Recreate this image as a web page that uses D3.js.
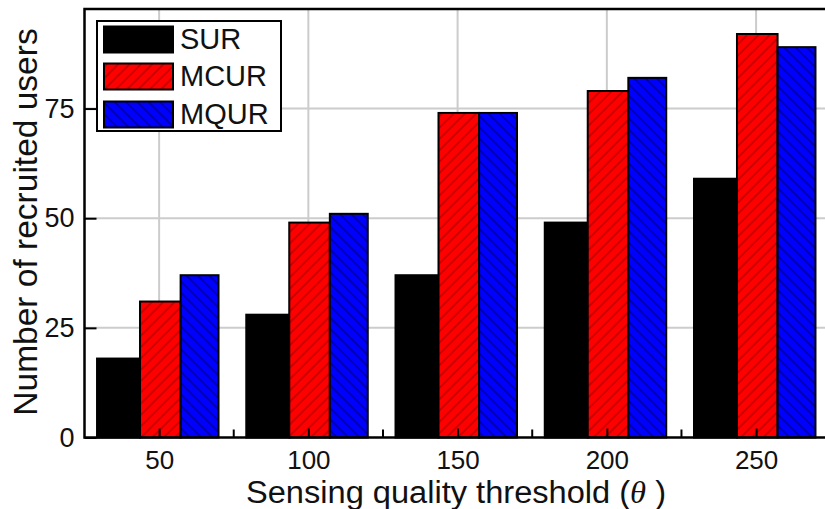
<!DOCTYPE html>
<html>
<head>
<meta charset="utf-8">
<script src="https://cdn.jsdelivr.net/npm/d3@7"></script>
<style>
  html, body { margin: 0; padding: 0; background: #fff; }
  svg { display: block; font-family: "Liberation Sans", Arial, Helvetica, sans-serif; }
</style>
</head>
<body>
<svg id="chart" width="825" height="509"></svg>
<script>
// Sensing quality threshold values (x categories)
const categories = [50, 100, 150, 200, 250];
// Number of recruited users per scheme
const surValues  = [18, 28, 37, 49, 59];
const mcurValues = [31, 49, 74, 79, 92];
const mqurValues = [37, 51, 74, 82, 89];
const seriesNames = ["SUR", "MCUR", "MQUR"];
const yTicks = [0, 25, 50, 75];
const xMinorTicks = [75, 125, 175, 225];

const W = 825, H = 509;
const plot = { left: 84.5, top: 9, bottom: 437.5 };

const svg = d3.select("#chart");

const x = d3.scaleLinear().domain([25, 275]).range([plot.left, 830.7]);
const y = d3.scaleLinear().domain([0, 97.7]).range([plot.bottom, plot.top]);

// Bar edges (in x-axis units) relative to each category value
const barEdges = [[-20.8, -6.4], [-6.4, 7.2], [7.2, 19.9]];

// Hatch patterns
const defs = svg.append("defs");
function hatch(id, bg, line, angle) {
  const s = 8;
  const p = defs.append("pattern")
    .attr("id", id)
    .attr("patternUnits", "userSpaceOnUse")
    .attr("width", s).attr("height", s)
    .attr("patternTransform", `rotate(${angle})`);
  p.append("rect").attr("width", s).attr("height", s).attr("fill", bg);
  p.append("line").attr("x1", 1).attr("x2", 1).attr("y1", 0).attr("y2", s)
    .attr("stroke", line).attr("stroke-width", 1.4);
}
hatch("hatchRed", "#ff0000", "#b80000", 45);
hatch("hatchBlue", "#0000ff", "#000090", -45);

const styles = [
  { fill: "#000000", stroke: "#000000" },
  { fill: "url(#hatchRed)", stroke: "#000000" },
  { fill: "url(#hatchBlue)", stroke: "#000000" }
];

const clip = defs.append("clipPath").attr("id", "plotClip");
clip.append("rect").attr("x", plot.left).attr("y", plot.top)
  .attr("width", W - plot.left + 20).attr("height", plot.bottom - plot.top);

// Grid
const grid = svg.append("g").attr("clip-path", "url(#plotClip)");
grid.selectAll("line.vg").data(categories).join("line")
  .attr("x1", d => x(d)).attr("x2", d => x(d))
  .attr("y1", plot.top).attr("y2", plot.bottom)
  .attr("stroke", "#cccccc").attr("stroke-width", 2);
grid.selectAll("line.hg").data(yTicks.filter(d => d > 0)).join("line")
  .attr("x1", plot.left).attr("x2", W + 10)
  .attr("y1", d => y(d)).attr("y2", d => y(d))
  .attr("stroke", "#cccccc").attr("stroke-width", 2);

// Bars
const allSeries = [surValues, mcurValues, mqurValues];
allSeries.forEach((vals, si) => {
  svg.append("g").selectAll("rect").data(vals).join("rect")
    .attr("x", (d, i) => x(categories[i] + barEdges[si][0]))
    .attr("width", (d, i) => x(categories[i] + barEdges[si][1]) - x(categories[i] + barEdges[si][0]))
    .attr("y", d => y(d))
    .attr("height", d => y(0) - y(d))
    .attr("fill", styles[si].fill)
    .attr("stroke", styles[si].stroke)
    .attr("stroke-width", 2);
});

// Axes (ticks inward)
const xAxis = d3.axisBottom(x).tickValues(categories).tickSize(-9).tickPadding(13).tickFormat(d3.format("d"));
const gx = svg.append("g").attr("transform", `translate(0,${plot.bottom})`).call(xAxis);
gx.select(".domain").remove();
gx.selectAll(".tick line").attr("stroke", "#000").attr("stroke-width", 2);
gx.selectAll(".tick text").attr("font-size", 26).attr("fill", "#111");

svg.append("g").selectAll("line").data(xMinorTicks).join("line")
  .attr("x1", d => x(d)).attr("x2", d => x(d))
  .attr("y1", plot.bottom).attr("y2", plot.bottom - 8)
  .attr("stroke", "#000").attr("stroke-width", 2);

const yAxis = d3.axisLeft(y).tickValues(yTicks).tickSize(-12).tickPadding(10).tickFormat(d3.format("d"));
const gy = svg.append("g").attr("transform", `translate(${plot.left},0)`).call(yAxis);
gy.select(".domain").remove();
gy.selectAll(".tick line").attr("stroke", "#000").attr("stroke-width", 2);
gy.selectAll(".tick text").attr("font-size", 27).attr("fill", "#111");

// Frame
svg.append("path")
  .attr("d", `M${W + 10},${plot.top}H${plot.left}V${plot.bottom}H${W + 10}`)
  .attr("fill", "none").attr("stroke", "#000").attr("stroke-width", 2.5);

// Axis titles
svg.append("text")
  .attr("x", 456).attr("y", 503)
  .attr("text-anchor", "middle").attr("font-size", 31).attr("fill", "#111")
  .attr("textLength", 420).attr("lengthAdjust", "spacingAndGlyphs")
  .html('Sensing quality threshold (<tspan font-family="Liberation Serif, Times New Roman, serif" font-style="italic">θ</tspan> )');

svg.append("text")
  .attr("transform", "translate(37,222) rotate(-90)")
  .attr("text-anchor", "middle").attr("font-size", 33.5).attr("fill", "#111")
  .text("Number of recruited users");

// Legend
const lg = svg.append("g");
lg.append("rect").attr("x", 97).attr("y", 21).attr("width", 184).attr("height", 110)
  .attr("fill", "#fff").attr("stroke", "#000").attr("stroke-width", 2);
const legendY = [39.5, 76.5, 114.5];
seriesNames.forEach((name, i) => {
  lg.append("rect").attr("x", 104).attr("y", legendY[i] - 13).attr("width", 69).attr("height", 26)
    .attr("fill", styles[i].fill).attr("stroke", "#000").attr("stroke-width", 2);
  lg.append("text").attr("x", 180).attr("y", legendY[i] + 9.5)
    .attr("font-size", 29).attr("fill", "#111").text(name);
});
</script>
</body>
</html>
